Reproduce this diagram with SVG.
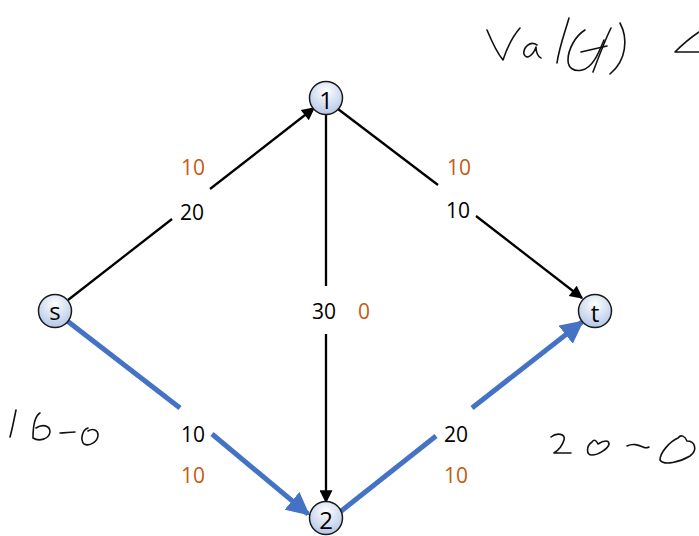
<svg xmlns="http://www.w3.org/2000/svg" width="699" height="536" viewBox="0 0 699 536">
<style>
.node circle{fill:url(#ng);stroke:#1a1a1a;stroke-width:1.5}
.node text{font-family:"Open Sans","Liberation Sans",sans-serif;font-size:24px;fill:#000;text-anchor:middle;dominant-baseline:central}
.e{stroke:#000;stroke-width:2.3;fill:none}
.b{stroke:#4472c4;stroke-width:5;fill:none}
.lb{font-family:"Open Sans","Liberation Sans",sans-serif;font-size:21px;text-anchor:middle;dominant-baseline:central}
.k{fill:#000}.o{fill:#c55a11}
.ink{stroke:#111;stroke-width:1.6;fill:none;stroke-linecap:round;stroke-linejoin:round}
</style>
<defs>
<radialGradient id="ng" cx="50%" cy="30%" r="70%">
<stop offset="0" stop-color="#ffffff"/><stop offset="1" stop-color="#b4c7e7"/>
</radialGradient>
<marker id="ak" viewBox="0 0 10 10" refX="9" refY="5" markerWidth="15" markerHeight="13" markerUnits="userSpaceOnUse" orient="auto"><path d="M0,0L10,5L0,10z" fill="#000"/></marker>
<marker id="ab" viewBox="0 0 10 10" refX="9" refY="5" markerWidth="4.6" markerHeight="4.6" orient="auto"><path d="M0,0L10,5L0,10z" fill="#4472c4"/></marker>
</defs>
<g id="connectors">
<line class="e" x1="68" y1="300" x2="172" y2="219"/>
<line class="e" x1="210" y1="189" x2="314" y2="108" marker-end="url(#ak)"/>
<line class="e" x1="338" y1="109" x2="438" y2="185"/>
<line class="e" x1="476" y1="216" x2="582" y2="298" marker-end="url(#ak)"/>
<line class="e" x1="326" y1="115" x2="326" y2="286"/>
<line class="e" x1="326" y1="334" x2="326" y2="502" marker-end="url(#ak)"/>
<line class="b" x1="66" y1="320" x2="180" y2="408"/>
<line class="b" x1="212" y1="434" x2="308" y2="514" marker-end="url(#ab)"/>
<line class="b" x1="340" y1="512" x2="436" y2="436"/>
<line class="b" x1="472" y1="408" x2="582" y2="322" marker-end="url(#ab)"/>
</g>
<g id="labels">
<text class="lb o" x="193" y="167">10</text>
<text class="lb k" x="192" y="212">20</text>
<text class="lb o" x="459" y="167">10</text>
<text class="lb k" x="458" y="210">10</text>
<text class="lb k" x="324" y="311">30</text>
<text class="lb o" x="364" y="311">0</text>
<text class="lb k" x="193" y="434">10</text>
<text class="lb o" x="193" y="475">10</text>
<text class="lb k" x="456" y="434">20</text>
<text class="lb o" x="456" y="475">10</text>
</g>
<g id="n1" class="node"><circle cx="326" cy="98" r="16.5"/><text x="326" y="99">1</text></g>
<g id="ns" class="node"><circle cx="55" cy="311" r="16.5"/><text x="55" y="310">s</text></g>
<g id="nt" class="node"><circle cx="595" cy="311" r="16.5"/><text x="595" y="312">t</text></g>
<g id="n2" class="node"><circle cx="326" cy="518" r="16.5"/><text x="326" y="519">2</text></g>
<g id="ink">
<path class="ink" d="M487,30 C492,42 498,54 503,60 C507,48 513,36 520,28"/>
<path class="ink" d="M537,45 C530,40 523,48 524,54 C526,60 533,56 536,47 C536,52 538,57 541,58"/>
<path class="ink" d="M569,18 C565,32 559,48 557,63"/>
<path class="ink" d="M585,30 C575,36 568,50 568,60 C568,68 574,72 582,70 C592,68 598,55 604,40"/>
<path class="ink" d="M611,28 C605,40 599,56 593,72"/>
<path class="ink" d="M581,52 C590,50 598,48 607,46"/>
<path class="ink" d="M620,23 C628,38 627,60 610,74"/>
<path class="ink" d="M699,32 C690,38 682,45 675,52 C683,52 691,52 699,52"/>
<path class="ink" d="M16,410 C14,420 12,430 10,437"/>
<path class="ink" d="M40,413 C35,416 33,424 33,438 C39,442 49,439 50,432 C50,425 42,424 36,428"/>
<path class="ink" d="M60,433 C65,433 70,432 75,432"/>
<path class="ink" d="M88,428 C82,430 80,440 84,444 C90,447 98,441 98,435 C98,430 93,428 88,431"/>
<path class="ink" d="M551,437 C557,432 566,434 564,440 C562,447 557,451 554,453 C560,453 566,453 571,453"/>
<path class="ink" d="M592,442 C586,446 586,455 592,455 C598,455 608,449 609,444 C609,440 604,440 598,444 C596,440 594,439 592,442"/>
<path class="ink" d="M627,446 C633,443 638,445 643,447 C645,448 647,448 649,447"/>
<path class="ink" d="M678,438 C669,442 660,453 660,460 C664,466 680,462 690,456 C698,450 695,441 687,441 C685,436 681,434 678,438"/>
</g>
</svg>
